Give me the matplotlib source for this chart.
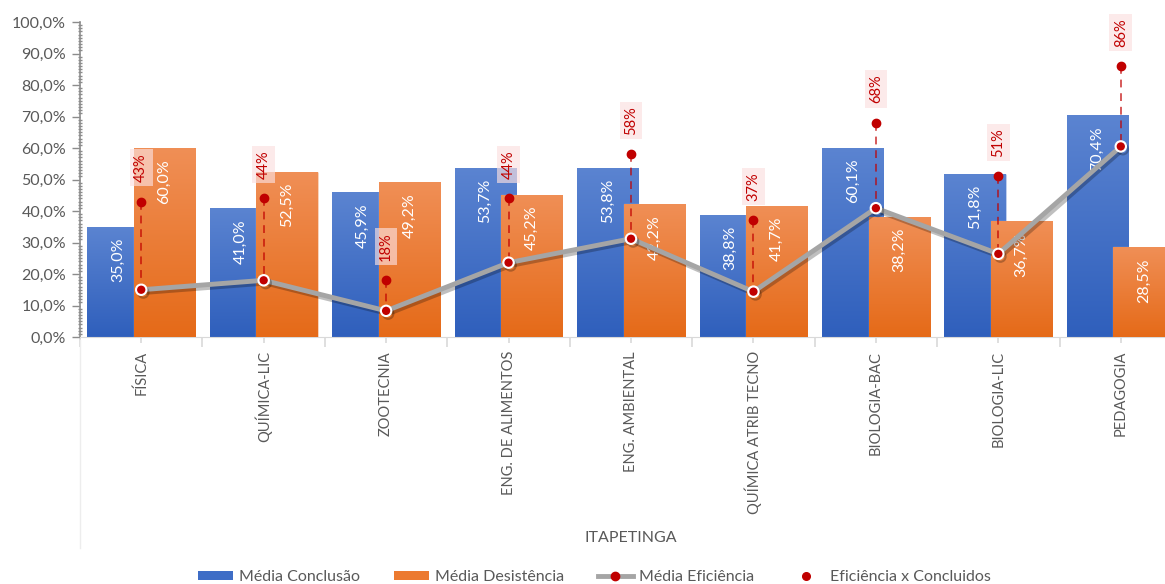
import matplotlib
matplotlib.use("Agg")
import matplotlib.pyplot as plt
import numpy as np
from matplotlib.colors import LinearSegmentedColormap
from matplotlib.lines import Line2D
from matplotlib.patches import Patch
import matplotlib.patheffects as pe
from matplotlib.ticker import FuncFormatter, MultipleLocator

plt.rcParams['font.family'] = ['Lato', 'DejaVu Sans']

categories = ["FÍSICA", "QUÍMICA-LIC", "ZOOTECNIA", "ENG. DE ALIMENTOS", "ENG. AMBIENTAL",
              "QUÍMICA ATRIB TECNO", "BIOLOGIA-BAC", "BIOLOGIA-LIC", "PEDAGOGIA"]
group_label = "ITAPETINGA"
media_conclusao = [35.0, 41.0, 45.9, 53.7, 53.8, 38.8, 60.1, 51.8, 70.4]
media_desistencia = [60.0, 52.5, 49.2, 45.2, 42.2, 41.7, 38.2, 36.7, 28.5]
media_eficiencia = [15.0, 18.0, 8.3, 23.6, 31.2, 14.4, 40.9, 26.4, 60.5]
eficiencia_concluidos = [43, 44, 18, 44, 58, 37, 68, 51, 86]

GRAY_TXT = '#595959'
RED = '#C00000'

fig = plt.figure(figsize=(11.65, 5.84), dpi=100)
W, H = 1165, 584
x_left, x_right = 80, 1182
y_top, y_bot = 22, 337
ax = fig.add_axes([x_left / W, (H - y_bot) / H, (x_right - x_left) / W, (y_bot - y_top) / H])

x = np.arange(len(categories))
bw = 0.5
off = 0.19

blue_cmap = LinearSegmentedColormap.from_list('b', ['#2F5FBC', '#5B84D1'])
orange_cmap = LinearSegmentedColormap.from_list('o', ['#E56A18', '#F08F56'])

bars_b = ax.bar(x - off, media_conclusao, bw, color='#3E6DC6', edgecolor=(1, 1, 1, 0.35), lw=1, zorder=2)
bars_o = ax.bar(x + off, media_desistencia, bw, color='#EC7A30', edgecolor=(1, 1, 1, 0.35), lw=1, zorder=3)

grad = np.linspace(0, 1, 256).reshape(-1, 1)
for bars, cmap, z in ((bars_b, blue_cmap, 2.1), (bars_o, orange_cmap, 3.1)):
    for b in bars:
        x0, y0 = b.get_x(), b.get_y()
        w, h = b.get_width(), b.get_height()
        im = ax.imshow(grad, cmap=cmap, origin='lower', extent=(x0, x0 + w, y0, y0 + h),
                       aspect='auto', zorder=z, interpolation='bicubic')
        im.set_clip_path(b)

# bar value labels
for bars, vals, z in ((bars_b, media_conclusao, 2.5), (bars_o, media_desistencia, 3.5)):
    for b, v in zip(bars, vals):
        ax.annotate(f"{v:.1f}%".replace('.', ','), (b.get_x() + b.get_width() / 2, v),
                    xytext=(0, -8), textcoords='offset points', rotation=90,
                    ha='center', va='top', color='white', fontsize=11.5, zorder=z)

# dashed connectors
for xi, e, m in zip(x, eficiencia_concluidos, media_eficiencia):
    ax.plot([xi, xi], [e, m], ls=(0, (4, 3)), color=RED, alpha=0.65, lw=1.4, zorder=5)

# line
ax.plot(x, media_eficiencia, color='#A5A5A5', lw=3.5, marker='o', markersize=7.5,
        markerfacecolor=RED, markeredgecolor='white', markeredgewidth=1.5, zorder=6,
        solid_capstyle='round',
        path_effects=[pe.SimpleLineShadow(offset=(1.5, -2), shadow_color='k', alpha=0.25), pe.Normal()])

# efficiency dots
ax.plot(x, eficiencia_concluidos, ls='none', marker='o', markersize=6, color=RED, zorder=7)
for xi, e in zip(x, eficiencia_concluidos):
    ax.annotate(f"{e}%", (xi, e), xytext=(0, 14), textcoords='offset points', rotation=90,
                ha='center', va='bottom', color=RED, fontsize=10.5, zorder=8,
                bbox=dict(boxstyle='square,pad=0.3', fc='#FBE0E0', ec='none', alpha=0.65))

ax.set_xlim(-0.5, len(categories) - 0.5)
ax.set_ylim(0, 100)

# y axis
ax.yaxis.set_major_locator(MultipleLocator(10))
ax.yaxis.set_minor_locator(MultipleLocator(1))
ax.yaxis.set_major_formatter(FuncFormatter(lambda v, p: f"{v:.1f}%".replace('.', ',')))
ax.tick_params(axis='y', which='major', length=6, width=1, color='#8C8C8C', labelsize=11.5,
               labelcolor=GRAY_TXT, pad=4)
ax.tick_params(axis='y', which='minor', length=3, width=1, color='#8C8C8C', direction='inout')

# x axis
ax.set_xticks(np.arange(-0.5, len(categories) + 0.5, 1))
ax.set_xticklabels([])
ax.set_xticks(x, minor=True)
ax.set_xticklabels(categories, minor=True, rotation=90, ha='center', va='top',
                   color=GRAY_TXT, fontsize=10.5)
ax.tick_params(axis='x', which='major', length=7, color='#D9D9D9', width=1.2)
ax.tick_params(axis='x', which='minor', length=4, color='#D9D9D9', width=1.2, pad=6)

for s in ('top', 'right'):
    ax.spines[s].set_visible(False)
ax.spines['left'].set_color('#8C8C8C')
ax.spines['left'].set_linewidth(1.2)
ax.spines['bottom'].set_color('#D9D9D9')

# multi-level divider & group label
fig.add_artist(Line2D([79.5 / W, 79.5 / W], [(H - 340) / H, (H - 548) / H], color='#EDEDED', lw=1))
fig.text((x_left + x_right) / 2 / W, (H - 538) / H, group_label, ha='center', va='center',
         color=GRAY_TXT, fontsize=11.5)

# legend
handles = [
    Patch(facecolor='#3E6DC6', edgecolor='none'),
    Patch(facecolor='#EC7A30', edgecolor='none'),
    Line2D([0], [0], color='#A5A5A5', lw=3.5, marker='o', markersize=6, markerfacecolor=RED,
           markeredgecolor=RED),
    Line2D([0], [0], ls='none', marker='o', markersize=5.5, color=RED),
]
labels = ["Média Conclusão", "Média Desistência", "Média Eficiência", "Eficiência x Concluidos"]
fig.legend(handles, labels, loc='center', bbox_to_anchor=(594 / W, (H - 577) / H), ncol=4,
           frameon=False, fontsize=11.5, labelcolor=GRAY_TXT, handlelength=2.2, handleheight=0.55,
           handletextpad=0.4, columnspacing=2.1)

fig.savefig('out.png', dpi=100)
